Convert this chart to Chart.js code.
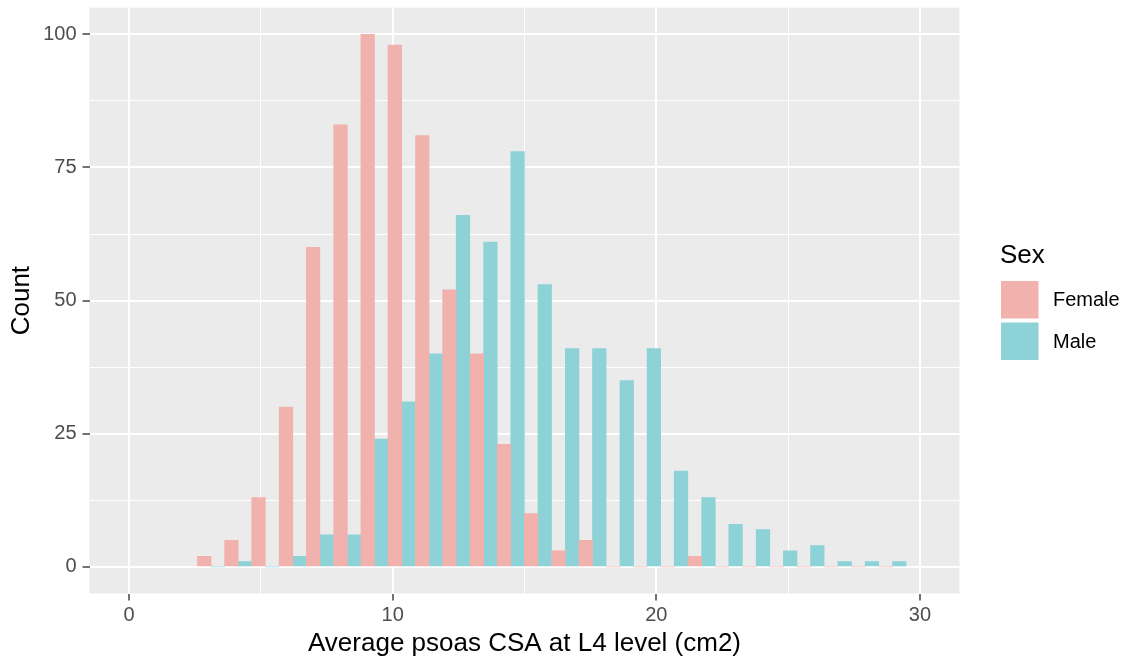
<!DOCTYPE html>
<html>
<head>
<meta charset="utf-8">
<title>Average psoas CSA at L4 level</title>
<script src="https://cdn.jsdelivr.net/npm/chart.js@4.4.1/dist/chart.umd.min.js"></script>
<style>
  html, body { margin: 0; padding: 0; background: #ffffff; }
  #wrap { width: 1131px; height: 662px; }
</style>
</head>
<body>
<div id="wrap"><canvas id="histChart" width="1131" height="662"></canvas></div>
<script>
// bin centres (cm2)
const binCenters = [
  3.11, 4.14, 5.17, 6.21, 7.24, 8.28, 9.31, 10.34, 11.38, 12.41,
  13.45, 14.48, 15.51, 16.55, 17.58, 18.62, 19.65, 20.68, 21.72, 22.75,
  23.79, 24.82, 25.85, 26.89, 27.92, 28.96
];
const femaleCounts = [
  2, 5, 13, 30, 60, 83, 100, 98, 81, 52,
  40, 23, 10, 3, 5, 0, 0, 0, 2, 0,
  0, 0, 0, 0, 0, 0
];
const maleCounts = [
  0, 1, 0, 2, 6, 6, 24, 31, 40, 66,
  61, 78, 53, 41, 41, 35, 41, 18, 13, 8,
  7, 3, 4, 1, 1, 1
];
const seriesNames = ['Female', 'Male'];
const seriesColors = ['rgb(241,177,172)', 'rgb(141,210,215)'];

const xMajorTicks = [0, 10, 20, 30];
const xMinorTicks = [5, 15, 25];
const yMajorTicks = [0, 25, 50, 75, 100];
const yMinorTicks = [12.5, 37.5, 62.5, 87.5];

const xTitle = 'Average psoas CSA at L4 level (cm2)';
const yTitle = 'Count';
const legendTitle = 'Sex';

const FONT = "'Liberation Sans', Arial, Helvetica, sans-serif";
const PANEL_BG = '#EBEBEB';

Chart.defaults.font.family = FONT;

function isMajor(list, value) {
  return list.includes(value);
}

function setTicks(values) {
  return (scale) => {
    scale.ticks = values.slice().sort((a, b) => a - b).map((v) => ({ value: v }));
  };
}

function gridFor(majors) {
  return {
    color: '#ffffff',
    offset: false,
    lineWidth: (ctx) => (ctx.tick && isMajor(majors, ctx.tick.value) ? 2 : 1),
    drawTicks: true,
    tickLength: 7,
    tickWidth: 1.5,
    tickColor: (ctx) => (ctx.tick && isMajor(majors, ctx.tick.value) ? '#444444' : 'rgba(0,0,0,0)')
  };
}

// fixed axis sizes, and no extra room for overflowing tick labels
function fixSize(prop, size) {
  return (scale) => {
    scale[prop] = size;
    scale.paddingTop = 0;
    scale.paddingBottom = 0;
    scale.paddingLeft = 0;
    scale.paddingRight = 0;
  };
}

const panelBackground = {
  id: 'panelBackground',
  beforeDraw(chart) {
    const { ctx, chartArea } = chart;
    ctx.save();
    ctx.fillStyle = PANEL_BG;
    ctx.fillRect(chartArea.left, chartArea.top, chartArea.right - chartArea.left, chartArea.bottom - chartArea.top);
    ctx.restore();
  }
};

const sideLegend = {
  id: 'sideLegend',
  afterDraw(chart) {
    const { ctx } = chart;
    const keySize = 37.5;
    const keyLeft = 1001;
    const firstKeyTop = 281;
    const keyStep = 41.5;
    ctx.save();
    ctx.textBaseline = 'middle';
    ctx.textAlign = 'left';
    ctx.fillStyle = '#000000';
    ctx.font = `26px ${FONT}`;
    ctx.fillText(legendTitle, 1000, 256);
    ctx.font = `20px ${FONT}`;
    chart.data.datasets.forEach((ds, i) => {
      const top = firstKeyTop + i * keyStep;
      ctx.fillStyle = ds.backgroundColor;
      ctx.fillRect(keyLeft, top, keySize, keySize);
      ctx.fillStyle = '#000000';
      ctx.fillText(ds.label, 1053, top + keySize / 2 + 1);
    });
    ctx.restore();
  }
};

const seriesCounts = [femaleCounts, maleCounts];

new Chart(document.getElementById('histChart'), {
  type: 'bar',
  data: {
    datasets: seriesNames.map((name, i) => ({
      label: name,
      data: binCenters.map((x, k) => ({ x, y: seriesCounts[i][k] })),
      backgroundColor: seriesColors[i],
      borderWidth: 0,
      categoryPercentage: 1,
      barPercentage: 1
    }))
  },
  options: {
    responsive: false,
    devicePixelRatio: 1,
    animation: false,
    layout: { padding: { top: 7.7, right: 171.5, bottom: 0, left: 0 } },
    plugins: {
      legend: { display: false },
      tooltip: { enabled: false }
    },
    scales: {
      x: {
        type: 'linear',
        min: -1.5,
        max: 31.5,
        offset: false,
        border: { display: false },
        grid: gridFor(xMajorTicks),
        afterBuildTicks: setTicks(xMajorTicks.concat(xMinorTicks)),
        afterFit: fixSize('height', 68.5),
        ticks: {
          autoSkip: false,
          maxRotation: 0,
          padding: 3,
          color: '#4D4D4D',
          font: { size: 20 },
          callback: (value) => (isMajor(xMajorTicks, value) ? String(value) : '')
        },
        title: {
          display: true,
          text: xTitle,
          color: '#000000',
          font: { size: 26 },
          padding: { top: 0, bottom: 3 }
        }
      },
      y: {
        type: 'linear',
        min: -5,
        max: 105,
        border: { display: false },
        grid: gridFor(yMajorTicks),
        afterBuildTicks: setTicks(yMajorTicks.concat(yMinorTicks)),
        afterFit: fixSize('width', 89.5),
        ticks: {
          autoSkip: false,
          padding: 6,
          color: '#4D4D4D',
          font: { size: 20 },
          callback: (value) => (isMajor(yMajorTicks, value) ? String(value) : '')
        },
        title: {
          display: true,
          text: yTitle,
          color: '#000000',
          font: { size: 26 },
          padding: { top: 6, bottom: 0 }
        }
      }
    }
  },
  plugins: [panelBackground, sideLegend]
});
</script>
</body>
</html>
